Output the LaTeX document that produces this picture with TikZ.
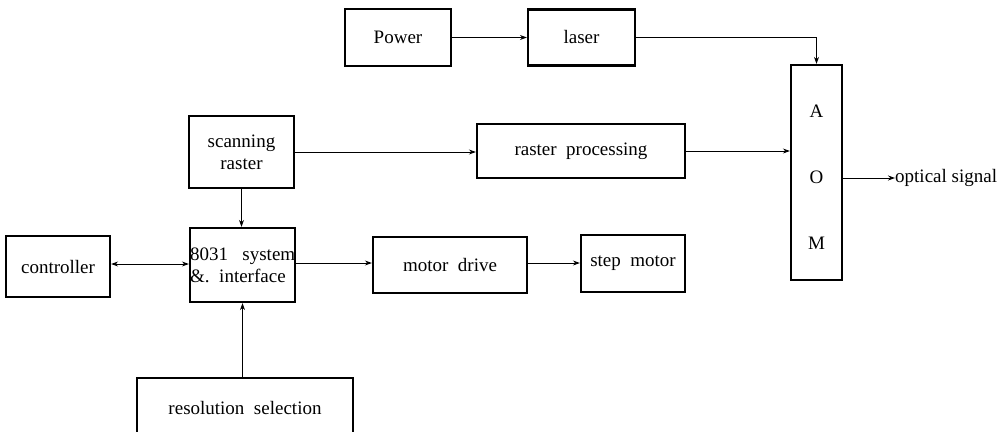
\documentclass[tikz,border=0pt]{standalone}
\usepackage{fontspec}
\setmainfont{Liberation Serif}
\usetikzlibrary{arrows.meta}

\tikzset{
  box/.style={draw, line width=2.2pt, inner sep=0pt, anchor=center},
  link/.style={line width=1pt, -{Stealth[length=7pt,width=5pt]}},
}

\begin{document}
\begin{tikzpicture}[x=1pt, y=-1pt, font=\fontsize{19}{22}\selectfont]
\useasboundingbox (0,0) rectangle (1006,431);
\clip (0,0) rectangle (1006,431);

    \node[box, minimum width=106pt, minimum height=57pt] (power) at (398,37.5) {Power};
    \node[box, minimum width=107pt, minimum height=56pt] (laser) at (581.5,37.5) {laser};
    \node[box, minimum width=51pt, minimum height=215pt] (aom) at (816.5,172.5) {};
    \node[align=center, inner sep=0pt] (aomtext) at (816.5,177) {A\\[44pt]O\\[44pt]M};

    \node[box, minimum width=105pt, minimum height=72pt, align=center] (scan) at (241.5,152) {scanning\\raster};
    \node[box, minimum width=208pt, minimum height=54pt] (raster) at (581,151) {raster\ \ processing};

    \node[box, minimum width=104pt, minimum height=61pt] (ctrl) at (58,266.5) {controller};
    \node[box, minimum width=105pt, minimum height=74pt] (sys) at (242.5,265) {};
    \node[align=left, inner sep=0pt, anchor=west] (systext) at (190,265) {8031\ \ \ system\\\&.\ \ interface};
    \node[box, minimum width=154pt, minimum height=56pt] (motor) at (450,265) {motor\ \ drive};
    \node[box, minimum width=104pt, minimum height=57pt] (step) at (633,263.5) {step\ \ motor};

    \node[box, minimum width=216pt, minimum height=60pt] (res) at (245,408) {resolution\ \ selection};

    \coordinate (sig) at (895,178);
    \node[anchor=west, inner sep=0pt] (sigtext) at (sig) {optical signal};

     \draw[link] (power) -- (laser);
     \draw[link] (laser.east) -| (aom.north);
     \draw[link] (scan.east) -- (scan.east -| raster.west);
     \draw[link] (raster.east) -- (raster.east -| aom.west);
     \draw[link] (aom.east |- sig) -- (sig);
     \draw[link] (scan.south) -- (scan.south |- sys.north);
     \draw[link, {Stealth[length=7pt,width=5pt]}-{Stealth[length=7pt,width=5pt]}] (ctrl.east |- 0,264) -- (sys.west |- 0,264);
     \draw[link] (sys.east |- 0,263) -- (motor.west |- 0,263);
     \draw[link] (motor.east |- 0,263) -- (step.west |- 0,263);
     \draw[link] (sys.south |- res.north) -- (sys.south);
\end{tikzpicture}
\end{document}
